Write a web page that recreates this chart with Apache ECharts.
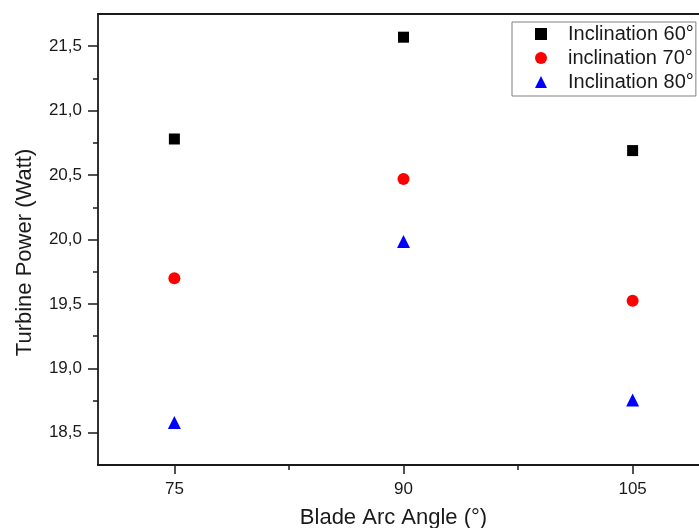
<!DOCTYPE html>
<html>
<head>
<meta charset="utf-8">
<script src="https://cdn.jsdelivr.net/npm/echarts@6/dist/echarts.min.js"></script>
<style>html,body{margin:0;padding:0;background:#fff;}#c{width:699px;height:528px;}</style>
</head>
<body>
<div id="c"></div>
<script>
const categories = [75, 90, 105];
const seriesNames = ['Inclination 60°', 'inclination 70°', 'Inclination 80°'];
const incl60 = [20.78, 21.57, 20.69];
const incl70 = [19.70, 20.47, 19.525];
const incl80 = [18.58, 19.985, 18.755];
const xMajorTicks = [75, 90, 105];
const xMinorTicks = [82.5, 97.5];
const yMajorTicks = [18.5, 19.0, 19.5, 20.0, 20.5, 21.0, 21.5];
const yMinorTicks = [18.75, 19.25, 19.75, 20.25, 20.75, 21.25];

const FONT = 'Liberation Sans, Arial, sans-serif';
const TXT = '#1a1a1a';
const LINE = {lineStyle: {color: '#1a1a1a', width: 1.8}};

function pairs(vals) { return categories.map((c, i) => [c, vals[i]]); }

const chart = echarts.init(document.getElementById('c'), null, {renderer: 'canvas'});
chart.setOption({
  animation: false,
  backgroundColor: '#fff',
  grid: {left: 98, top: 14, width: 611, height: 451, containLabel: false, outerBoundsMode: 'none'},
  legend: {
    orient: 'vertical', left: 512, top: 22,
    padding: [2, 2, 4, 23],
    borderColor: '#808080', borderWidth: 1,
    itemWidth: 12, itemHeight: 12, itemGap: 4,
    textStyle: {fontFamily: FONT, fontSize: 20, color: TXT, lineHeight: 20, padding: [0, 0, 0, 16]},
    data: [
      {name: seriesNames[0], icon: 'rect'},
      {name: seriesNames[1], icon: 'circle'},
      {name: seriesNames[2], icon: 'triangle'}
    ]
  },
  xAxis: [
    {
      type: 'value', min: 70, max: 110, position: 'bottom',
      name: 'Blade Arc Angle (°)', nameLocation: 'middle', nameGap: 42,
      nameTextStyle: {fontFamily: FONT, fontSize: 22, color: TXT, padding: [0, 20, 0, 0]},
      axisLine: {show: true, onZero: false, ...LINE},
      axisTick: {show: true, length: 9, customValues: xMajorTicks, lineStyle: {color: '#1a1a1a', width: 1.5}},
      axisLabel: {customValues: xMajorTicks, margin: 16, fontFamily: FONT, fontSize: 17, color: TXT},
      splitLine: {show: false}
    },
    {
      type: 'value', min: 70, max: 110, position: 'bottom', gridIndex: 0,
      axisLine: {show: false, onZero: false},
      axisTick: {show: true, length: 5, customValues: xMinorTicks, lineStyle: {color: '#1a1a1a', width: 1.5}},
      axisLabel: {show: false}, splitLine: {show: false}
    },
    {
      type: 'value', min: 70, max: 110, position: 'top', gridIndex: 0,
      axisLine: {show: true, onZero: false, ...LINE},
      axisTick: {show: false}, axisLabel: {show: false}, splitLine: {show: false}
    }
  ],
  yAxis: [
    {
      type: 'value', min: 18.25, max: 21.75, position: 'left',
      name: 'Turbine Power (Watt)', nameLocation: 'middle', nameGap: 62,
      nameTextStyle: {fontFamily: FONT, fontSize: 22, color: TXT, padding: [0, 26, 0, 0]},
      axisLine: {show: true, onZero: false, ...LINE},
      axisTick: {show: true, length: 10, customValues: yMajorTicks, lineStyle: {color: '#1a1a1a', width: 1.5}},
      axisLabel: {
        customValues: yMajorTicks, margin: 16, fontFamily: FONT, fontSize: 17, color: TXT,
        formatter: v => v.toFixed(1).replace('.', ',')
      },
      splitLine: {show: false}
    },
    {
      type: 'value', min: 18.25, max: 21.75, position: 'left', gridIndex: 0,
      axisLine: {show: false, onZero: false},
      axisTick: {show: true, length: 5, customValues: yMinorTicks, lineStyle: {color: '#1a1a1a', width: 1.5}},
      axisLabel: {show: false}, splitLine: {show: false}
    }
  ],
  series: [
    {name: seriesNames[0], type: 'scatter', symbol: 'rect', symbolSize: 11, itemStyle: {color: '#000000', opacity: 1}, data: pairs(incl60)},
    {name: seriesNames[1], type: 'scatter', symbol: 'circle', symbolSize: 12, itemStyle: {color: '#ff0000', opacity: 1}, data: pairs(incl70)},
    {name: seriesNames[2], type: 'scatter', symbol: 'triangle', symbolSize: 13, itemStyle: {color: '#0000ff', opacity: 1}, data: pairs(incl80)}
  ]
});
</script>
</body>
</html>
